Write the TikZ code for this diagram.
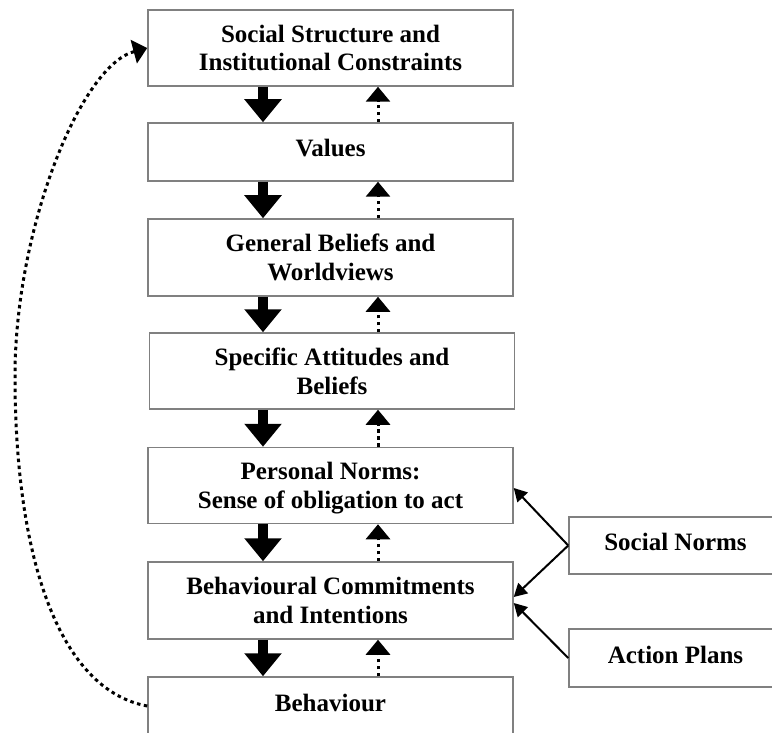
\documentclass[tikz,border=0pt]{standalone}
\usepackage{fontspec}
\setmainfont{Liberation Serif}
\usetikzlibrary{arrows.meta,calc}
\definecolor{boxgray}{RGB}{128,128,128}
\begin{document}
\begin{tikzpicture}[x=1pt,y=-1pt,
  box/.style={draw=boxgray,line width=1.5pt,inner sep=0pt,align=center,
    font=\fontsize{25}{28.75}\selectfont\bfseries},
  mainbox/.style={box,minimum width=365pt},
  sidebox/.style={box,minimum width=213pt},
  oneline/.style={text height=17pt,text depth=7pt},
  twoline/.style={text height=46pt,text depth=0pt},
  thickarrow/.style={line width=10pt,-{Triangle[length=23pt,width=36pt]}},
  dotarrow/.style={line width=3pt,dash pattern=on 3.5pt off 3.5pt,-{Triangle[length=15pt,width=24pt]}},
  dotcurve/.style={line width=3pt,dash pattern=on 3.5pt off 3.5pt,-{Triangle[length=14pt,width=24pt]}},
  thinarrow/.style={line width=2pt,-{Triangle[length=13pt,width=14pt]}}]
\path[use as bounding box] (0,0) rectangle (772,733);
\clip (0,0) rectangle (772,733);

\node[mainbox,twoline,minimum height=76pt] (b1) at (330.5,48) {Social Structure and\\Institutional Constraints};
\node[mainbox,oneline,minimum height=58pt] (b2) at (330.5,152) {Values};
\node[mainbox,twoline,minimum height=77pt] (b3) at (330.5,257.5) {General Beliefs and\\Worldviews};
\node[mainbox,twoline,minimum height=76pt] (b4) at (332,371) {Specific Attitudes and\\Beliefs};
\node[mainbox,twoline,minimum height=76pt] (b5) at (330.5,485.5) {Personal Norms:\\Sense of obligation to act};
\node[mainbox,twoline,minimum height=77pt] (b6) at (330.5,600.5) {Behavioural Commitments\\and Intentions};
\node[mainbox,oneline,minimum height=58pt] (b7) at (330.5,706) {Behaviour};
\node[sidebox,oneline,minimum height=57pt] (sn) at (675.5,545.5) {Social Norms};
\node[sidebox,oneline,minimum height=58pt] (ap) at (675.5,658) {Action Plans};

\coordinate (cl) at (263,0);
\coordinate (cr) at (378,0);

\foreach \u/\l in {b1/b2,b2/b3,b3/b4,b4/b5,b5/b6,b6/b7}{
  \draw[thickarrow] (\u.south -| cl) -- (\l.north -| cl);
  \draw[dotarrow] (\l.north -| cr) -- (\u.south -| cr);
}

\coordinate (t5) at (513,488);
\coordinate (t6a) at (513,597);
\coordinate (t6b) at (513,603);
\draw[thinarrow] (sn.west) -- (t5 -| b5.east);
\draw[thinarrow] (sn.west) -- (t6a -| b6.east);
\draw[thinarrow] (ap.west) -- (t6b -| b6.east);

\draw[dotcurve] (b7.west) .. controls (60,690) and (15,560) .. (15,376)
  .. controls (15,230) and (80,66) .. (b1.west);
\end{tikzpicture}
\end{document}
